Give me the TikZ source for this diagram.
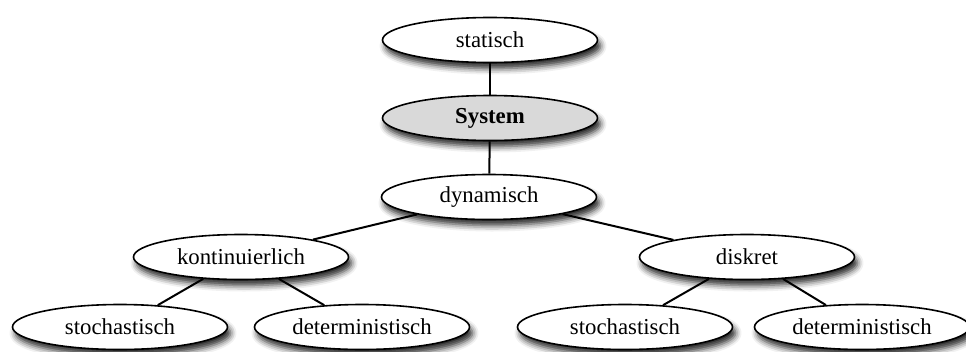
\documentclass[tikz,border=0pt]{standalone}
\usepackage{fontspec}
\setmainfont{Liberation Serif}
\usetikzlibrary{shapes.geometric,shadows.blur}
\begin{document}
\begin{tikzpicture}[x=1pt,y=-1pt,
  oval/.style={ellipse, draw=black, line width=1.6pt, fill=white,
    minimum width=215pt, minimum height=45pt, inner sep=0pt,
    font=\fontsize{22.8}{27}\selectfont,
    blur shadow={shadow xshift=3pt, shadow yshift=-6pt,
      shadow blur radius=6pt, shadow opacity=85}},
  core/.style={oval, fill=black!15, font=\fontsize{22.8}{27}\selectfont\bfseries},
  link/.style={draw=black, line width=2pt}]
\useasboundingbox (0,0) rectangle (966,351);
% hierarchy of system types
\node[oval] (stat) at (490,40) {statisch};
\node[core] (sys) at (490,118) {System};
\node[oval] (dyn) at (489,197) {dynamisch};
\node[oval] (kont) at (241,257) {kontinuierlich};
\node[oval] (disk) at (747,257) {diskret};
\node[oval] (ks) at (120,327) {stochastisch};
\node[oval] (kd) at (362,327) {deterministisch};
\node[oval] (ds) at (625,327) {stochastisch};
\node[oval] (dd) at (862,327) {deterministisch};
% connectors
\draw[link] (stat) -- (sys);
\draw[link] (sys) -- (dyn);
\draw[link] (dyn) -- (kont);
\draw[link] (dyn) -- (disk);
\draw[link] (kont) -- (ks);
\draw[link] (kont) -- (kd);
\draw[link] (disk) -- (ds);
\draw[link] (disk) -- (dd);
\end{tikzpicture}
\end{document}
